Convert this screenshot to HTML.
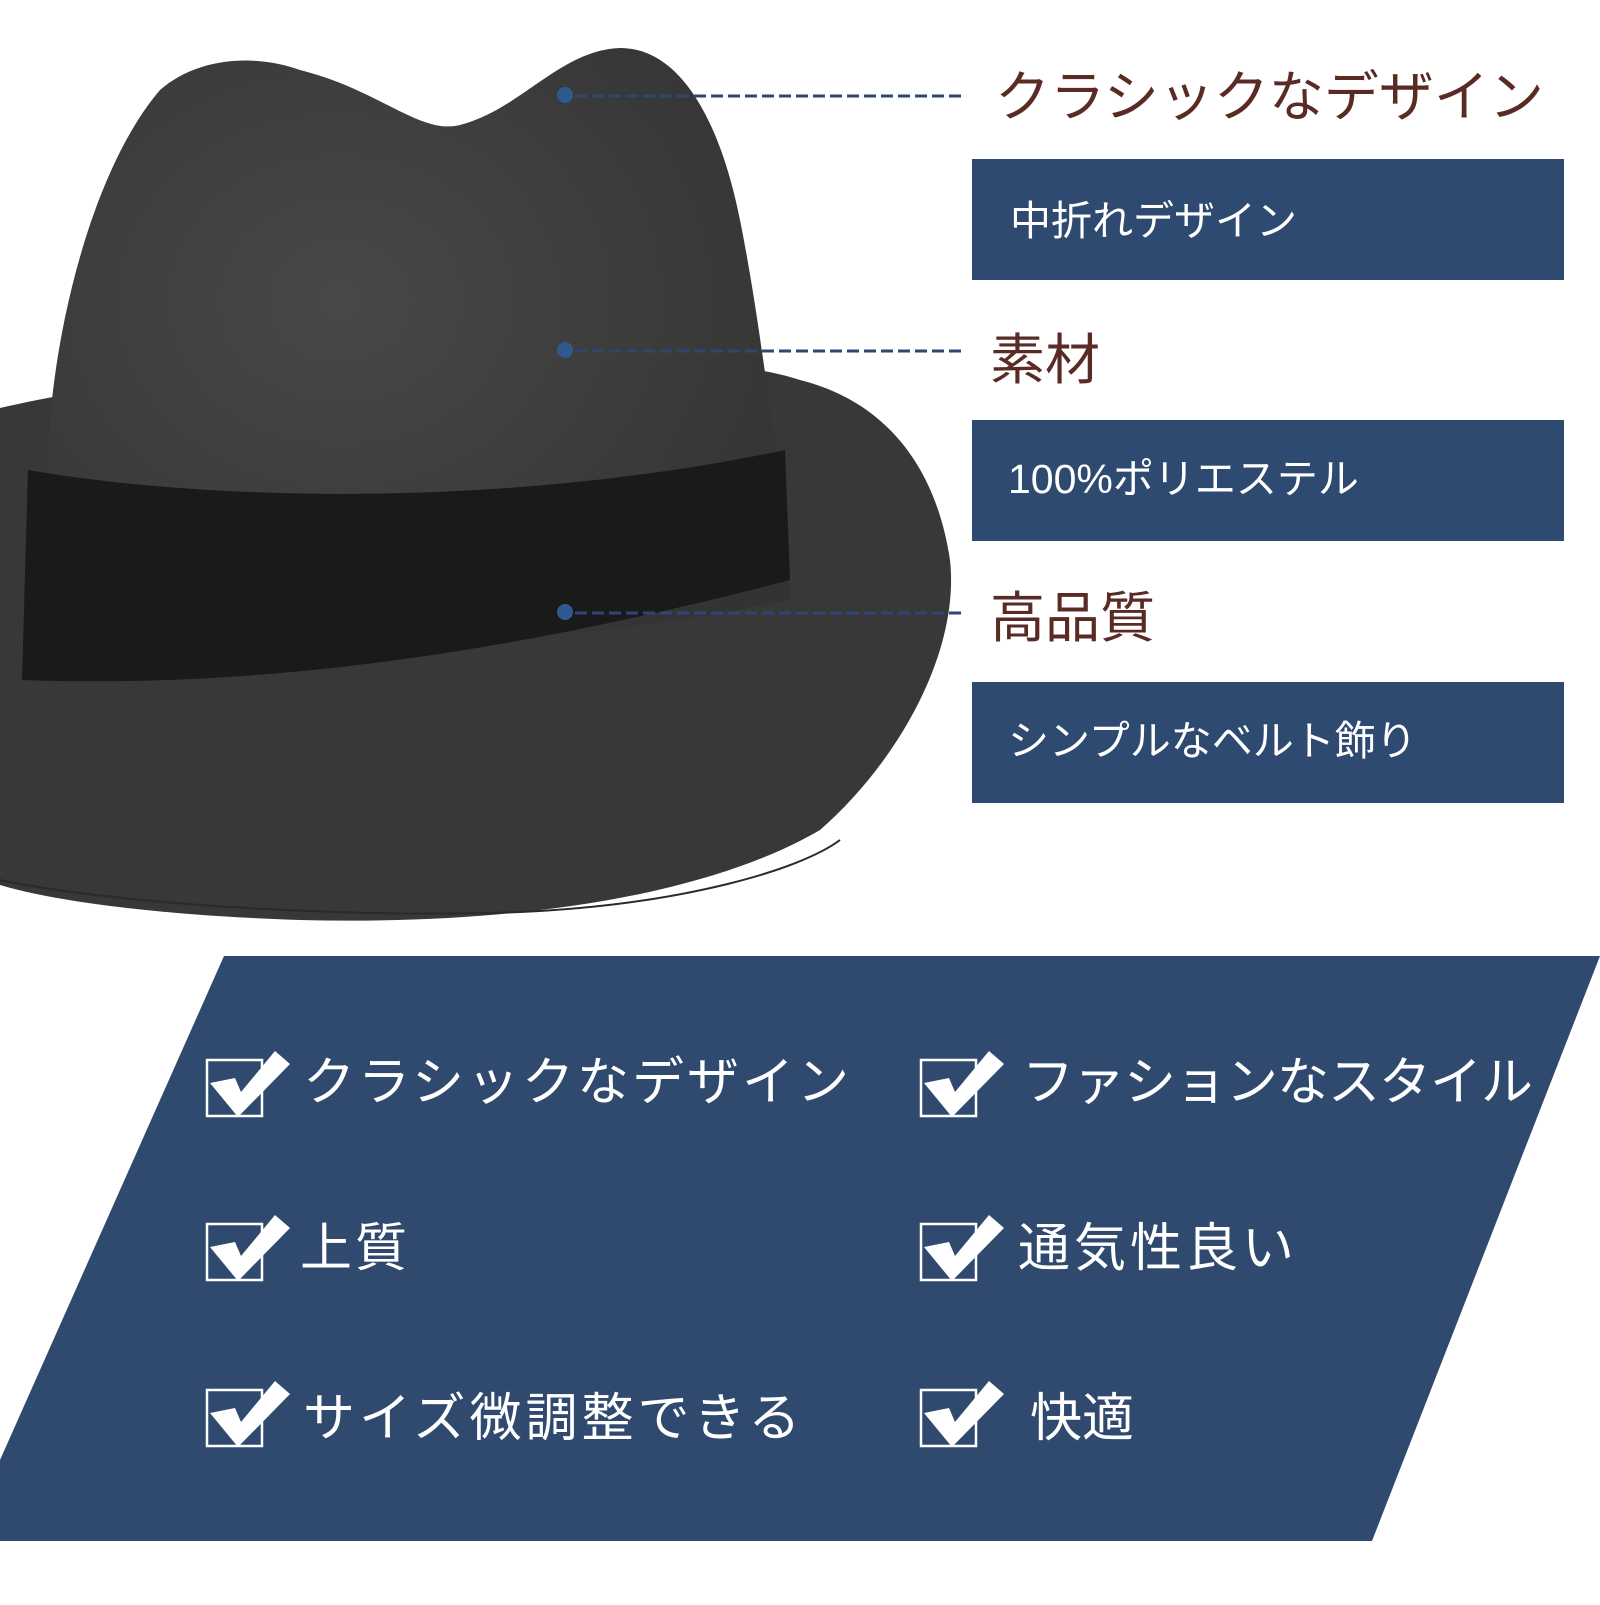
<!DOCTYPE html>
<html><head><meta charset="utf-8"><style>
html,body{margin:0;padding:0;background:#fff;}
svg text{font-family:"Liberation Sans","Noto Sans CJK JP",sans-serif;}
</style></head><body>
<svg width="1600" height="1600" viewBox="0 0 1600 1600" xmlns="http://www.w3.org/2000/svg">
<defs>
<radialGradient id="hg" cx="0.4" cy="0.4" r="0.7"><stop offset="0" stop-color="#484848"/><stop offset="1" stop-color="#333"/></radialGradient>
</defs>
<rect width="1600" height="1600" fill="#fff"/>
<!-- brim -->
<path d="M0 408 C120 380 300 360 500 360 C650 360 740 360 800 380 C880 400 935 460 950 560 C960 650 900 760 820 830 C700 900 500 925 300 920 C150 915 50 900 0 885 Z" fill="#383838"/>
<!-- crown -->
<path d="M40 680 L50 420 C60 300 100 160 160 90 C200 55 260 55 300 70 C380 90 420 135 460 125 C520 110 560 50 620 48 C680 48 720 120 740 220 C760 320 770 420 780 470 L790 600 C600 640 300 660 40 680 Z" fill="url(#hg)"/>
<!-- band -->
<path d="M28 470 C200 500 500 510 785 450 L790 580 C560 640 300 690 22 680 Z" fill="#1a1a1a"/>
<path d="M0 880 C120 905 350 918 520 912 C680 905 800 870 840 840" fill="none" stroke="#2a2a2a" stroke-width="2"/>
<!-- dots & dashes -->
<g fill="#2f5a90"><circle cx="565" cy="95" r="8"/><circle cx="565" cy="350" r="8"/><circle cx="565" cy="612" r="8"/></g>
<g stroke="#2d4770" stroke-width="3" stroke-dasharray="12,5">
<line x1="575" y1="96" x2="964" y2="96"/><line x1="575" y1="351" x2="964" y2="351"/><line x1="575" y1="613" x2="964" y2="613"/></g>
<!-- titles -->
<g fill="#5a2b24" font-size="55">
<text x="995" y="116" letter-spacing="0">クラシックなデザイン</text>
<text x="990" y="379">素材</text>
<text x="990" y="637">高品質</text></g>
<!-- boxes -->
<g fill="#2e4a70">
<rect x="972" y="159" width="592" height="121"/>
<rect x="972" y="420" width="592" height="121"/>
<rect x="972" y="682" width="592" height="121"/></g>
<g fill="#fff" font-size="41">
<text x="1010" y="235">中折れデザイン</text>
<text x="1008" y="493">100%ポリエステル</text>
<text x="1008" y="755">シンプルなベルト飾り</text></g>
<!-- parallelogram -->
<polygon points="224,956 1600,956 1372,1541 0,1541 0,1460" fill="#2f4a6e"/>
<g fill="none" stroke="#fff" stroke-width="2.5">
<rect x="207" y="1060" width="55" height="56"/><rect x="921" y="1060" width="55" height="56"/>
<rect x="207" y="1224" width="55" height="56"/><rect x="921" y="1224" width="55" height="56"/>
<rect x="207" y="1390" width="55" height="56"/><rect x="921" y="1390" width="55" height="56"/></g>
<g fill="#fff">
<path d="M210 1083 L235 1078 L241 1092 L275 1051 L290 1064 L238 1117 Z"/>
<path d="M924 1083 L949 1078 L955 1092 L989 1051 L1004 1064 L952 1117 Z"/>
<path d="M210 1247 L235 1242 L241 1256 L275 1215 L290 1228 L238 1281 Z"/>
<path d="M924 1247 L949 1242 L955 1256 L989 1215 L1004 1228 L952 1281 Z"/>
<path d="M210 1413 L235 1408 L241 1422 L275 1381 L290 1394 L238 1447 Z"/>
<path d="M924 1413 L949 1408 L955 1422 L989 1381 L1004 1394 L952 1447 Z"/></g>
<g fill="#fff" font-size="52">
<text x="303" y="1100" letter-spacing="3">クラシックなデザイン</text>
<text x="1022" y="1100" letter-spacing="-1">ファションなスタイル</text>
<text x="300" y="1266" letter-spacing="3">上質</text>
<text x="1018" y="1266" letter-spacing="4">通気性良い</text>
<text x="303" y="1436" letter-spacing="4">サイズ微調整できる</text>
<text x="1030" y="1436">快適</text></g>
</svg>
</body></html>
